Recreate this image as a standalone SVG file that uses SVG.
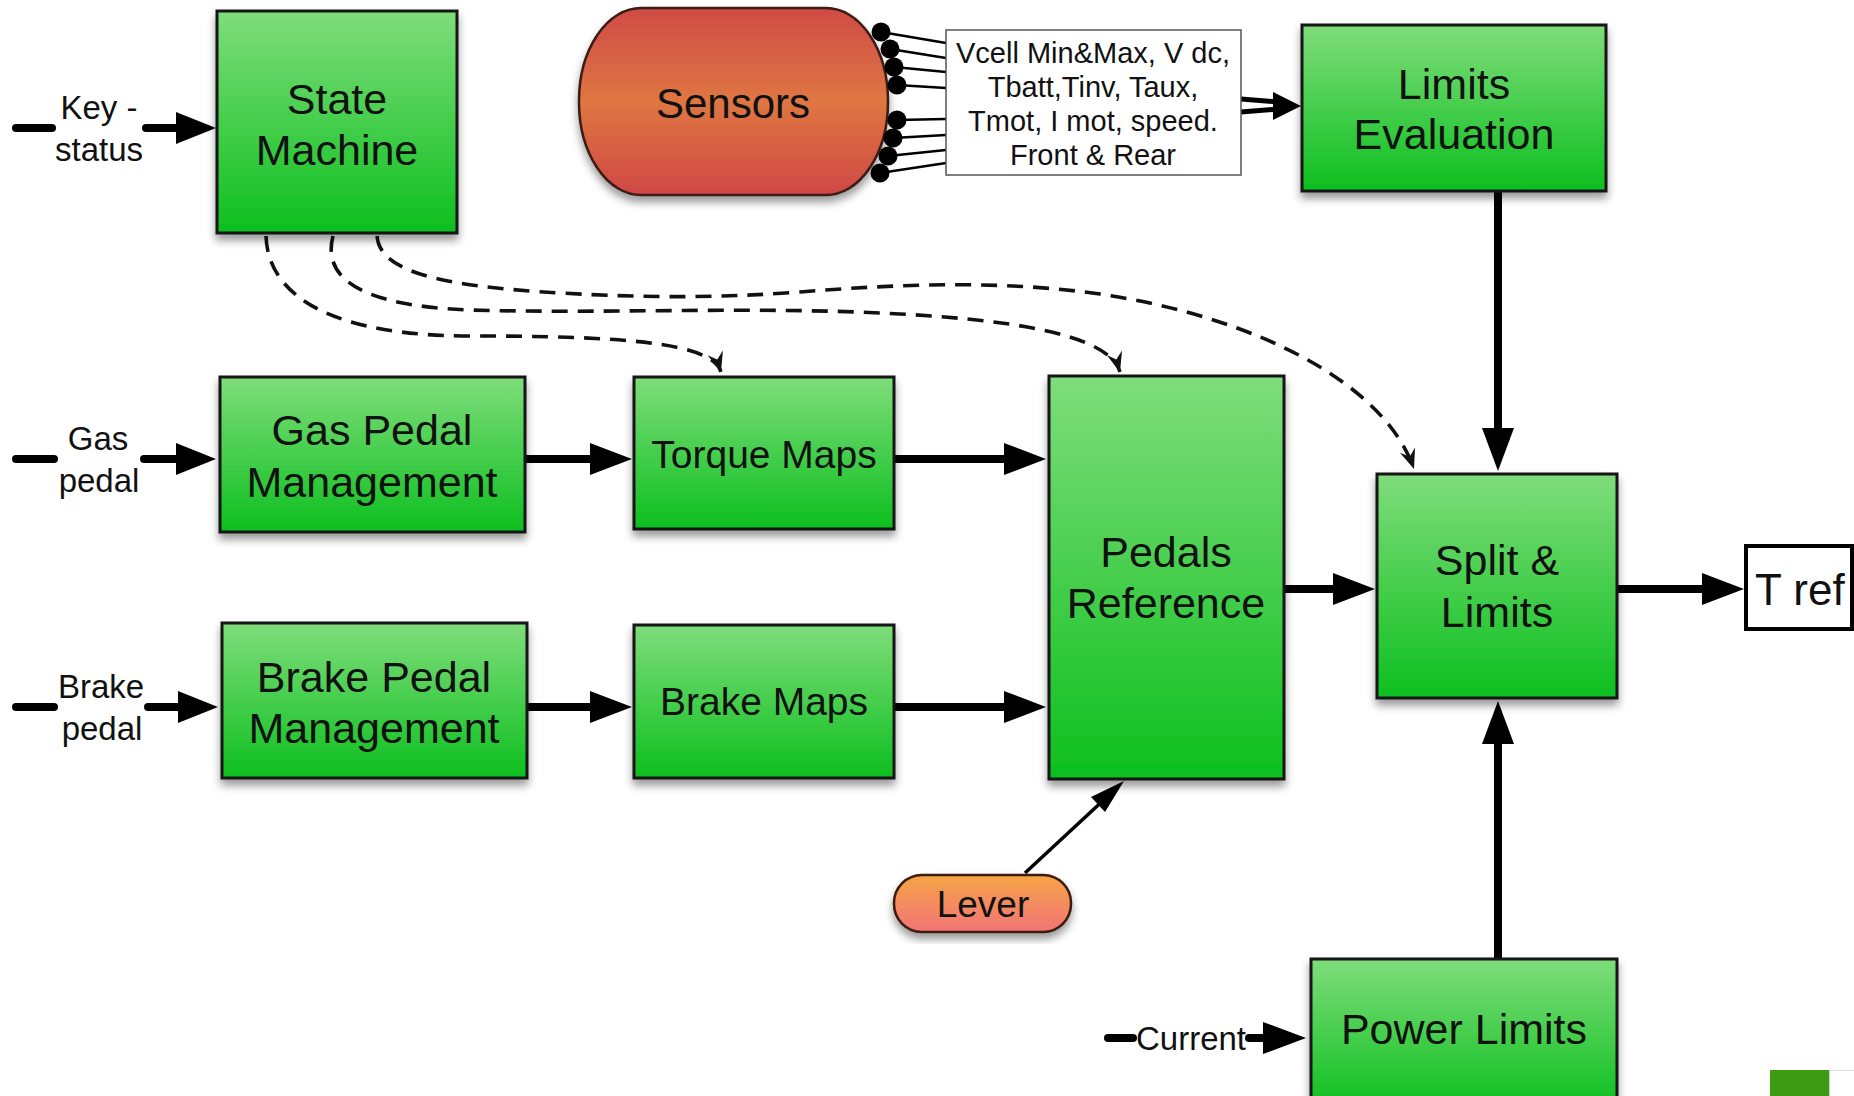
<svg xmlns="http://www.w3.org/2000/svg" width="1854" height="1096" viewBox="0 0 1854 1096">
  <defs>
    <linearGradient id="gGreen" x1="0" y1="0" x2="0" y2="1">
      <stop offset="0" stop-color="#7fdd7b"/>
      <stop offset="1" stop-color="#0dbf1f"/>
    </linearGradient>
    <linearGradient id="gSensor" x1="0" y1="0" x2="0" y2="1">
      <stop offset="0" stop-color="#cf4b45"/>
      <stop offset="0.5" stop-color="#df7643"/>
      <stop offset="1" stop-color="#cf4844"/>
    </linearGradient>
    <linearGradient id="gLever" x1="0" y1="0" x2="0" y2="1">
      <stop offset="0" stop-color="#f6a446"/>
      <stop offset="1" stop-color="#f27477"/>
    </linearGradient>
    <filter id="shadow" x="-10%" y="-10%" width="120%" height="130%">
      <feDropShadow dx="0" dy="6" stdDeviation="4" flood-color="#000" flood-opacity="0.4"/>
    </filter>
    <marker id="dashHead" markerUnits="userSpaceOnUse" markerWidth="26" markerHeight="22" viewBox="-22 -11 26 22" refX="0" refY="0" orient="auto">
      <path d="M0,0 L-20,-8 L-13,0 L-20,8 Z" fill="#111"/>
    </marker>
  </defs>
  <style>
    .box { fill: url(#gGreen); stroke: #151515; stroke-width: 3; filter: url(#shadow); }
    .lbl { font-family: "Liberation Sans", Arial, sans-serif; fill: #111; text-anchor: middle; }
    .big { font-size: 43px; }
    .map { font-size: 39px; }
    .side { font-size: 33px; }
    .info { font-size: 29px; }
    .wire { stroke: #000; stroke-width: 8; fill: none; stroke-linecap: round; }
    .thin { stroke: #000; stroke-width: 2.5; fill: none; }
    .head { fill: #000; }
    .dash { stroke: #111; stroke-width: 3.6; fill: none; stroke-dasharray: 16 10; marker-end: url(#dashHead); }
    .dot { fill: #000; }
  </style>

  <rect width="1854" height="1096" fill="#fff"/>

  <!-- connectors -->
  <g id="connectors">
    <!-- Key-status input -->
    <line class="wire" x1="16" y1="128" x2="52" y2="128"/>
    <line class="wire" x1="146" y1="128" x2="180" y2="128"/>
    <polygon class="head" points="176,112 216,128 176,144"/>
    <!-- Gas pedal input -->
    <line class="wire" x1="16" y1="459" x2="54" y2="459"/>
    <line class="wire" x1="144" y1="459" x2="180" y2="459"/>
    <polygon class="head" points="176,443 216,459 176,475"/>
    <!-- Brake pedal input -->
    <line class="wire" x1="16" y1="707" x2="54" y2="707"/>
    <line class="wire" x1="148" y1="707" x2="182" y2="707"/>
    <polygon class="head" points="178,691 218,707 178,723"/>
    <!-- Gas Pedal Management -> Torque Maps -->
    <line class="wire" x1="527" y1="459" x2="594" y2="459"/>
    <polygon class="head" points="590,443 632,459 590,475"/>
    <!-- Torque Maps -> Pedals Reference -->
    <line class="wire" x1="896" y1="459" x2="1008" y2="459"/>
    <polygon class="head" points="1004,443 1046,459 1004,475"/>
    <!-- Brake Pedal Management -> Brake Maps -->
    <line class="wire" x1="529" y1="707" x2="594" y2="707"/>
    <polygon class="head" points="590,691 632,707 590,723"/>
    <!-- Brake Maps -> Pedals Reference -->
    <line class="wire" x1="896" y1="707" x2="1008" y2="707"/>
    <polygon class="head" points="1004,691 1046,707 1004,723"/>
    <!-- Pedals Reference -> Split & Limits -->
    <line class="wire" x1="1286" y1="589" x2="1337" y2="589"/>
    <polygon class="head" points="1333,573 1375,589 1333,605"/>
    <!-- Split & Limits -> T ref -->
    <line class="wire" x1="1619" y1="589" x2="1706" y2="589"/>
    <polygon class="head" points="1702,573 1744,589 1702,605"/>
    <!-- Limits Evaluation -> Split & Limits -->
    <line class="wire" x1="1498" y1="188" x2="1498" y2="432"/>
    <polygon class="head" points="1482,428 1498,471 1514,428"/>
    <!-- Power Limits -> Split & Limits -->
    <line class="wire" x1="1498" y1="958" x2="1498" y2="740"/>
    <polygon class="head" points="1482,744 1498,701 1514,744"/>
    <!-- Current input -->
    <line class="wire" x1="1108" y1="1038" x2="1133" y2="1038"/>
    <line class="wire" x1="1249" y1="1038" x2="1266" y2="1038"/>
    <polygon class="head" points="1263,1022 1306,1038 1263,1054"/>
    <!-- sensor bundle -> Limits Evaluation -->
    <line stroke="#000" stroke-width="5" x1="1241" y1="99" x2="1280" y2="102"/>
    <line stroke="#000" stroke-width="5" x1="1241" y1="112" x2="1280" y2="109"/>
    <polygon class="head" points="1273,92 1301,106 1273,120"/>
    <!-- sensor wires -->
    <line class="thin" x1="881" y1="32" x2="946" y2="43"/>
    <line class="thin" x1="890" y1="49" x2="946" y2="58"/>
    <line class="thin" x1="894" y1="67" x2="946" y2="72"/>
    <line class="thin" x1="897" y1="85" x2="946" y2="88"/>
    <line class="thin" x1="897" y1="120" x2="946" y2="119"/>
    <line class="thin" x1="893" y1="138" x2="946" y2="135"/>
    <line class="thin" x1="888" y1="156" x2="946" y2="150"/>
    <line class="thin" x1="880" y1="173" x2="946" y2="163"/>
    <!-- Lever -> Pedals Reference -->
    <line stroke="#000" stroke-width="3.5" x1="1025" y1="873" x2="1108" y2="796"/>
    <polygon class="head" points="1124,781 1105,812 1091,797"/>
    <!-- State Machine mode signals -->
    <path class="dash" d="M266,236 C268,300 340,336 470,336 C620,336 712,342 721,372"/>
    <path class="dash" d="M333,236 C322,278 360,306 470,310 C610,314 760,306 900,314 C1030,321 1110,338 1120,372"/>
    <path class="dash" d="M377,236 C380,272 440,286 560,293 C650,298 720,298 800,292 C900,284 1000,280 1100,294 C1260,318 1385,385 1414,469"/>
  </g>

  <g id="state-machine">
    <rect class="box" x="217" y="11" width="240" height="222"/>
    <text class="lbl big" x="337" y="114">State</text>
    <text class="lbl big" x="337" y="165">Machine</text>
  </g>
  <g id="key-status">
    <text class="lbl side" x="99" y="119">Key -</text>
    <text class="lbl side" x="99" y="161">status</text>
  </g>

  <g id="sensors">
    <rect x="579" y="8" width="309" height="187" rx="62" ry="93" fill="url(#gSensor)" stroke="#3b1a12" stroke-width="2.5" filter="url(#shadow)"/>
    <text class="lbl" font-size="42" x="733" y="118">Sensors</text>
    <circle class="dot" cx="881" cy="32" r="9.5"/>
    <circle class="dot" cx="890" cy="49" r="9.5"/>
    <circle class="dot" cx="894" cy="67" r="9.5"/>
    <circle class="dot" cx="897" cy="85" r="9.5"/>
    <circle class="dot" cx="897" cy="120" r="9.5"/>
    <circle class="dot" cx="893" cy="138" r="9.5"/>
    <circle class="dot" cx="888" cy="156" r="9.5"/>
    <circle class="dot" cx="880" cy="173" r="9.5"/>
  </g>

  <g id="sensor-signals">
    <rect x="946" y="30" width="295" height="145" fill="#fff" stroke="#555" stroke-width="1.5"/>
    <text class="lbl info" x="1093" y="63">Vcell Min&amp;Max, V dc,</text>
    <text class="lbl info" x="1093" y="97">Tbatt,Tinv, Taux,</text>
    <text class="lbl info" x="1093" y="131">Tmot, I mot, speed.</text>
    <text class="lbl info" x="1093" y="165">Front &amp; Rear</text>
  </g>

  <g id="limits-evaluation">
    <rect class="box" x="1302" y="25" width="304" height="166"/>
    <text class="lbl big" x="1454" y="99">Limits</text>
    <text class="lbl big" x="1454" y="149">Evaluation</text>
  </g>

  <g id="gas-pedal-management">
    <rect class="box" x="220" y="377" width="305" height="155"/>
    <text class="lbl big" x="372" y="445">Gas Pedal</text>
    <text class="lbl big" x="372" y="497">Management</text>
  </g>
  <g id="gas-pedal">
    <text class="lbl side" x="98" y="450">Gas</text>
    <text class="lbl side" x="99" y="492">pedal</text>
  </g>

  <g id="torque-maps">
    <rect class="box" x="634" y="377" width="260" height="152"/>
    <text class="lbl map" x="764" y="468">Torque Maps</text>
  </g>

  <g id="brake-pedal-management">
    <rect class="box" x="222" y="623" width="305" height="155"/>
    <text class="lbl big" x="374" y="692">Brake Pedal</text>
    <text class="lbl big" x="374" y="743">Management</text>
  </g>
  <g id="brake-pedal">
    <text class="lbl side" x="101" y="698">Brake</text>
    <text class="lbl side" x="102" y="740">pedal</text>
  </g>

  <g id="brake-maps">
    <rect class="box" x="634" y="625" width="260" height="153"/>
    <text class="lbl map" x="764" y="715">Brake Maps</text>
  </g>

  <g id="pedals-reference">
    <rect class="box" x="1049" y="376" width="235" height="403"/>
    <text class="lbl big" x="1166" y="567">Pedals</text>
    <text class="lbl big" x="1166" y="618">Reference</text>
  </g>

  <g id="split-limits">
    <rect class="box" x="1377" y="474" width="240" height="224"/>
    <text class="lbl big" x="1497" y="575">Split &amp;</text>
    <text class="lbl big" x="1497" y="627">Limits</text>
  </g>

  <g id="t-ref">
    <rect x="1746" y="546" width="106" height="83" fill="#fff" stroke="#000" stroke-width="4"/>
    <text class="lbl" font-size="44" x="1755" y="605" style="text-anchor:start">T ref</text>
  </g>

  <g id="lever">
    <rect x="894" y="875" width="177" height="57" rx="28" ry="28" fill="url(#gLever)" stroke="#3a1a10" stroke-width="2.5" filter="url(#shadow)"/>
    <text class="lbl" font-size="37" x="983" y="917">Lever</text>
  </g>

  <g id="power-limits">
    <rect class="box" x="1311" y="959" width="306" height="150"/>
    <text class="lbl big" x="1464" y="1044">Power Limits</text>
  </g>
  <g id="current">
    <text class="lbl side" x="1191" y="1050">Current</text>
  </g>

  <!-- corner marker -->
  <rect x="1770" y="1070" width="59" height="26" fill="#3d9a12"/>
  <line x1="1829.5" y1="1070" x2="1829.5" y2="1096" stroke="#ccc" stroke-width="1"/>
  <line x1="1829" y1="1070.5" x2="1854" y2="1070.5" stroke="#ddd" stroke-width="1"/>
</svg>
